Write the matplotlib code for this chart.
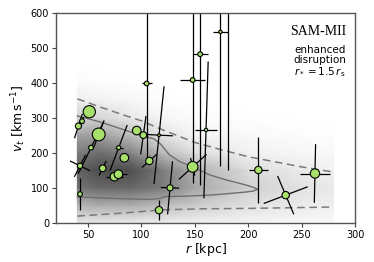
import numpy as np
import matplotlib
matplotlib.use("Agg")
import matplotlib.pyplot as plt
from matplotlib.collections import LineCollection

# ---- data ----
r_pts = [41.0, 44.4, 51.2, 60.0, 52.8, 42.5, 42.5, 63.7, 74.7, 78.4, 78.7, 84.0,
         95.6, 101.8, 104.9, 107.4, 116.5, 116.5, 126.8, 148.0, 155.0, 174.0,
         181.4, 148.0, 160.5, 209.5, 235.1, 262.5]
v_pts = [277, 291, 318, 253, 215, 163, 82, 156, 132, 139, 215, 186,
         264, 251, 399, 177, 251, 36, 100, 409, 483, 547,
         700, 160, 266, 151, 79, 141]
# marker diameters (points)
m_size = [4.4, 3.4, 8.8, 9.2, 3.4, 3.8, 3.4, 4.8, 6.2, 6.2, 2.9, 6.2,
          6.2, 4.8, 3.4, 5.3, 2.0, 5.3, 4.4, 3.4, 3.4, 2.4,
          2.4, 7.7, 2.4, 5.3, 5.3, 6.7]
# error axis 1 (half extents in r and v)
e1_r = [3.7, 1.5, 2.0, 5.0, 12.0, 5.3, 0.0, 3.4, 8.0, 8.0, 8.0, 1.5,
        1.5, 2.5, 0.0, 7.0, 4.7, 0.0, 2.3, 0.0, 0.0, 0.0,
        0.0, 13.0, 2.0, 0.0, 20.6, 0.6]
e1_v = [35, 12, 15, 40, 75, 31.5, 45, 21, 0, 0, 65, 10,
        10, 55, 229, 19, 140, 29, 76, 296, 375, 384,
        549, 36, 196, 94, 24, 84]
# error axis 2
e2_r = [1.5, 1.5, 4.0, 2.0, 2.0, 9.4, 1.5, 1.5, 1.5, 1.5, 3.6, 1.5,
        1.5, 1.5, 4.7, 1.5, 13.0, 1.5, 8.6, 12.0, 7.0, 7.0,
        0.0, 2.0, 10.5, 8.7, 7.6, 14.0]
e2_v = [-5, -5, -3, -5, -5, -14, 0, -5, -5, -5, 0, -5,
        -5, -5, 0, -5, -2, 0, -1, 0, 0, 0,
        0, -25, 0, 0, -55, 0]

# background model density (darkness) on a grid
dens_r = [40, 60, 90, 120, 150, 200, 250, 280]
dens_v = [0, 50, 100, 150, 200, 250, 300, 350, 400, 450]
dens = np.array([
    # r=40   60    90    120   150   200   250   280
    [0.18, 0.18, 0.16, 0.14, 0.12, 0.09, 0.06, 0.05],   # v=0
    [0.42, 0.45, 0.45, 0.40, 0.33, 0.22, 0.16, 0.13],   # v=50
    [0.65, 0.70, 0.70, 0.62, 0.47, 0.30, 0.21, 0.17],   # v=100
    [0.72, 0.80, 0.80, 0.62, 0.44, 0.25, 0.16, 0.12],   # v=150
    [0.62, 0.68, 0.60, 0.40, 0.24, 0.12, 0.07, 0.05],   # v=200
    [0.48, 0.50, 0.40, 0.20, 0.10, 0.05, 0.03, 0.02],   # v=250
    [0.30, 0.28, 0.18, 0.08, 0.03, 0.01, 0.0, 0.0],     # v=300
    [0.14, 0.12, 0.07, 0.02, 0.0, 0.0, 0.0, 0.0],       # v=350
    [0.04, 0.03, 0.01, 0.0, 0.0, 0.0, 0.0, 0.0],        # v=400
    [0.0, 0.0, 0.0, 0.0, 0.0, 0.0, 0.0, 0.0],           # v=450
])

# contour (solid) and percentile lines (dashed)
cont_r = [40, 60, 80, 100, 112, 118, 126, 136, 150, 164, 180, 198, 205, 209,
          205, 198, 180, 164, 140, 122, 118, 110, 90, 70, 40]
cont_v = [306, 290, 270, 250, 240, 225, 195, 175, 157, 137, 122, 108, 101, 96,
          91, 88, 83, 79, 76, 75, 70, 67, 68, 70, 74]
up_r = [40, 60, 80, 100, 120, 150, 175, 200, 250, 280]
up_v = [355, 333, 312, 292, 266, 230, 209, 189, 160, 145]
lo_r = [40, 80, 120, 160, 200, 240, 280]
lo_v = [19, 27, 37, 40, 41, 43, 45]

xticks = [50, 100, 150, 200, 250, 300]
yticks = [0, 100, 200, 300, 400, 500, 600]

# ---- plotting ----
fig = plt.figure(figsize=(3.74, 2.62), dpi=100)
ax = fig.add_axes([0.1497, 0.150, 0.7995, 0.799])

R, V = np.meshgrid(dens_r, dens_v)
ax.pcolormesh(R, V, dens, cmap='Greys', vmin=0, vmax=1.05, shading='gouraud',
              zorder=0, rasterized=True)

ax.plot(cont_r, cont_v, color='#6e6e6e', lw=1.0, zorder=1)
ax.plot(up_r, up_v, color='#7a7a7a', lw=1.1, ls=(0, (5, 3)), zorder=1)
ax.plot(lo_r, lo_v, color='#7a7a7a', lw=1.1, ls=(0, (5, 3)), zorder=1)

segs = []
for r, v, a, b, c, d in zip(r_pts, v_pts, e1_r, e1_v, e2_r, e2_v):
    segs.append([(r - a, v - b), (r + a, v + b)])
    segs.append([(r - c, v - d), (r + c, v + d)])
ax.add_collection(LineCollection(segs, colors='black', linewidths=0.9, zorder=2))

ax.scatter(r_pts, v_pts, s=np.array(m_size) ** 2, facecolor='#a8e06c',
           edgecolor='black', linewidth=0.8, zorder=3)

ax.set_xlim(20, 300)
ax.set_ylim(0, 600)
ax.set_xticks(xticks)
ax.set_yticks(yticks)
ax.tick_params(labelsize=7, length=3, width=0.8, color='#444444', pad=2)
for sp in ax.spines.values():
    sp.set_color('#555555')
    sp.set_linewidth(1.0)

ax.set_xlabel(r'$r$ [kpc]', fontsize=9, labelpad=1)
ax.set_ylabel(r'$v_t$ [km$\,$s$^{-1}$]', fontsize=9, labelpad=2)

ax.text(0.97, 0.945, 'SAM-MII', transform=ax.transAxes, ha='right', va='top',
        fontsize=10, family='Liberation Serif')
ax.text(0.97, 0.85, 'enhanced\ndisruption\n$r_* = 1.5\\,r_\\mathrm{s}$',
        transform=ax.transAxes, ha='right', va='top', fontsize=7.5,
        linespacing=1.0)

fig.savefig('out.png', dpi=100)
